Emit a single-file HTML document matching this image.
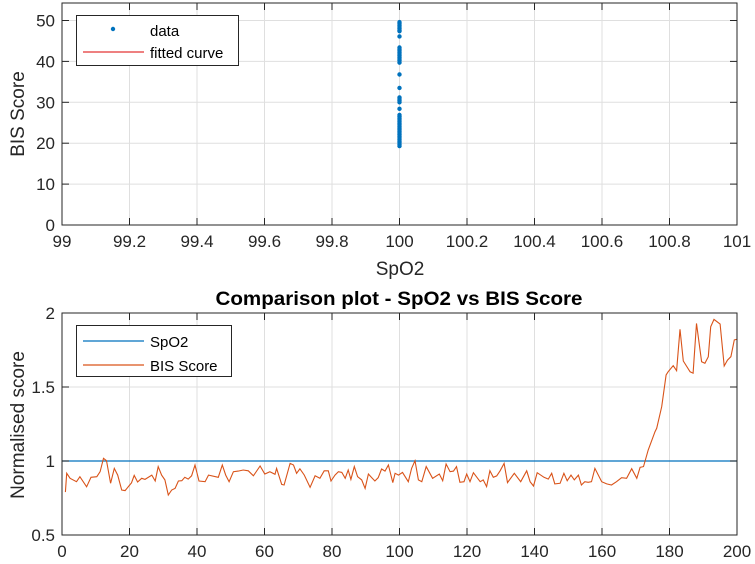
<!DOCTYPE html>
<html><head><meta charset="utf-8"><style>
body{margin:0;background:#fff;}
svg{display:block;font-family:"Liberation Sans",Arial,sans-serif;}
</style></head><body>
<svg id="chart" width="755" height="564" viewBox="0 0 755 564">
<rect width="755" height="564" fill="#fff"/>
<g id="topAxes"></g>
<g id="botAxes"></g>
</svg>
<script>
// Top chart data
const spo2Vals = [100];
const bisScatter = [49.6,49.2,48.8,48.4,48.0,47.6,47.4,46.1,43.4,43.0,42.6,42.2,41.8,41.4,41.0,40.6,40.2,39.7,36.8,33.5,31.2,30.8,30.4,30.0,28.4,26.9,26.5,26.1,25.7,25.3,24.9,24.5,24.1,23.7,23.3,22.9,22.5,22.1,21.7,21.3,20.9,20.5,20.1,19.7,19.3];
const topXTicks = [99,99.2,99.4,99.6,99.8,100,100.2,100.4,100.6,100.8,101];
const topXTickLabels = ["99","99.2","99.4","99.6","99.8","100","100.2","100.4","100.6","100.8","101"];
const topYTicks = [0,10,20,30,40,50];
// Bottom chart data
const sampleIdx = [1,1.4,2.4,4.3,5.3,7.3,8.6,10.3,11.3,12.3,13.2,14.4,15.5,16.5,17.7,18.7,20.6,21.4,22.4,23.6,24.6,26.6,27.6,28.5,29.5,30.5,31.5,32.5,33.5,34.5,35.5,36.4,37.4,38.4,39.4,40.6,42.4,43.4,46.3,47.5,48.5,49.5,50.8,52.2,53.7,55.2,56.7,58.7,60.1,61.6,63.1,63.6,65.1,65.8,67.6,68.6,69.5,70.5,71.8,73.5,75,76.4,77.7,78.9,79.7,80.9,81.9,82.9,83.9,84.8,85.6,86.6,87.6,88.8,89.8,90.8,91.8,92.7,93.7,94.7,95.7,96.7,98,98.7,99.7,100.9,102.6,103.6,104.6,105.6,106.6,107.9,109.8,111.8,112.8,113.8,115,116,116.9,117.9,119.1,119.9,120.9,121.9,123.9,124.8,125.8,126.8,127.8,128.8,129.8,131,132,134,135.9,137.7,138.7,139.7,140.8,142.8,144.1,145.1,146,147.6,148.7,149.7,150.8,151.8,153,153.9,154.9,155.9,156.9,157.9,159.9,161.4,162.8,164.3,165.8,167.3,168.8,170.3,171.3,172.3,173.7,175.7,176.2,177.7,179,179.6,181.1,182.1,183.1,184.1,186.1,187,188,189.5,190.5,191.5,192.2,193.2,195,196.2,197.2,198.2,199.2,200];
const bisNorm = [0.79,0.917,0.883,0.86,0.894,0.826,0.89,0.894,0.928,1.018,1.002,0.849,0.95,0.905,0.804,0.8,0.853,0.903,0.858,0.883,0.876,0.905,0.865,0.962,0.905,0.872,0.77,0.804,0.815,0.865,0.867,0.89,0.878,0.9,0.973,0.865,0.86,0.905,0.89,0.973,0.905,0.86,0.928,0.932,0.939,0.934,0.9,0.966,0.912,0.928,0.91,0.95,0.842,0.838,0.984,0.973,0.917,0.947,0.905,0.822,0.9,0.883,0.934,0.934,0.865,0.905,0.928,0.923,0.883,0.939,0.876,0.962,0.894,0.872,0.815,0.912,0.887,0.865,0.887,0.946,0.932,0.973,0.854,0.917,0.905,0.923,0.86,0.95,1.002,0.872,0.86,0.962,0.883,0.912,0.867,0.98,0.928,0.932,0.962,0.856,0.86,0.912,0.86,0.921,0.86,0.872,0.827,0.934,0.89,0.899,0.934,0.984,0.854,0.917,0.86,0.934,0.86,0.831,0.921,0.89,0.878,0.917,0.845,0.849,0.917,0.867,0.905,0.872,0.905,0.838,0.86,0.856,0.86,0.95,0.86,0.845,0.838,0.86,0.887,0.883,0.948,0.883,0.957,0.962,1.074,1.198,1.221,1.367,1.581,1.603,1.644,1.61,1.89,1.676,1.603,1.593,1.93,1.671,1.66,1.705,1.907,1.957,1.926,1.642,1.682,1.705,1.818,1.822];
const spo2Norm = [1,1];
const botXTicks = [0,20,40,60,80,100,120,140,160,180,200];
const botYTicks = [0.5,1,1.5,2];
const botYTickLabels = ["0.5","1","1.5","2"];

const NS="http://www.w3.org/2000/svg";
function mk(parent,tag,attrs,text){const e=document.createElementNS(NS,tag);for(const k in attrs)e.setAttribute(k,attrs[k]);if(text!==undefined)e.textContent=text;parent.appendChild(e);return e;}
const TC="#262626";

const tx=v=>62+(v-99)/2*675;
const ty=v=>225-v*4.09;
const topG=document.getElementById('topAxes');
for(const t of topXTicks){const l=mk(topG,'line',{x1:tx(t),x2:tx(t),y1:3,y2:225,stroke:'#dfdfdf','stroke-width':1});

}
for(const t of topYTicks){const l=mk(topG,'line',{x1:62,x2:737,y1:ty(t),y2:ty(t),stroke:'#dfdfdf','stroke-width':1});

}
for(const v of bisScatter){const c=mk(topG,'circle',{cx:tx(spo2Vals[0]),cy:ty(v),r:2.2,fill:'#0072bd'});

}
let f=mk(topG,'rect',{x:62,y:3,width:675,height:222,fill:'none',stroke:TC,'stroke-width':1});


topXTicks.forEach((t,i)=>{mk(topG,'line',{x1:tx(t),x2:tx(t),y1:225,y2:218,stroke:TC});mk(topG,'line',{x1:tx(t),x2:tx(t),y1:3,y2:10,stroke:TC});
const e=mk(topG,'text',{x:tx(t),y:247,'text-anchor':'middle','font-size':17,fill:TC},topXTickLabels[i]);

});
for(const t of topYTicks){mk(topG,'line',{x1:62,x2:69,y1:ty(t),y2:ty(t),stroke:TC});mk(topG,'line',{x1:737,x2:730,y1:ty(t),y2:ty(t),stroke:TC});
const e=mk(topG,'text',{x:55,y:ty(t)+6,'text-anchor':'end','font-size':17,fill:TC},String(t));

}
let e=mk(topG,'text',{x:400,y:275,'text-anchor':'middle','font-size':19,fill:TC},'SpO2');


e=mk(topG,'text',{x:0,y:0,'text-anchor':'middle','font-size':19,fill:TC,transform:'translate(24,114) rotate(-90)'},'BIS Score');


const lg=mk(topG,'g',{});


mk(lg,'rect',{x:76.5,y:15.5,width:162,height:50,fill:'#fff',stroke:TC});
mk(lg,'circle',{cx:113,cy:29,r:2.2,fill:'#0072bd'});
mk(lg,'text',{x:150,y:36,'font-size':15,fill:'#000'},'data');
mk(lg,'line',{x1:83,x2:144,y1:52,y2:52,stroke:'#d00','stroke-width':1});
mk(lg,'text',{x:150,y:58,'font-size':15,fill:'#000'},'fitted curve');

const bx=v=>62+v*3.375;
const by=v=>461-(v-1)*148;
const botG=document.getElementById('botAxes');
for(const t of botXTicks){const l=mk(botG,'line',{x1:bx(t),x2:bx(t),y1:313,y2:535,stroke:'#dfdfdf'});

}
for(const t of botYTicks){const l=mk(botG,'line',{x1:62,x2:737,y1:by(t),y2:by(t),stroke:'#dfdfdf'});

}
let p=mk(botG,'line',{x1:bx(0),x2:bx(200),y1:by(spo2Norm[0]),y2:by(spo2Norm[1]),stroke:'#0072bd','stroke-width':1.2});


p=mk(botG,'polyline',{points:sampleIdx.map((x,i)=>bx(x).toFixed(1)+','+by(bisNorm[i]).toFixed(1)).join(' '),fill:'none',stroke:'#d95319','stroke-width':1.1});


f=mk(botG,'rect',{x:62,y:313,width:675,height:222,fill:'none',stroke:TC});


for(const t of botXTicks){mk(botG,'line',{x1:bx(t),x2:bx(t),y1:535,y2:528,stroke:TC});mk(botG,'line',{x1:bx(t),x2:bx(t),y1:313,y2:320,stroke:TC});
const e2=mk(botG,'text',{x:bx(t),y:557,'text-anchor':'middle','font-size':17,fill:TC},String(t));

}
botYTicks.forEach((t,i)=>{mk(botG,'line',{x1:62,x2:69,y1:by(t),y2:by(t),stroke:TC});mk(botG,'line',{x1:737,x2:730,y1:by(t),y2:by(t),stroke:TC});
const e2=mk(botG,'text',{x:55,y:by(t)+6,'text-anchor':'end','font-size':17,fill:TC},botYTickLabels[i]);

});
e=mk(botG,'text',{x:399,y:305,'text-anchor':'middle','font-size':19,'font-weight':'bold',fill:'#000',textLength:367,lengthAdjust:'spacingAndGlyphs'},'Comparison plot - SpO2 vs BIS Score');


e=mk(botG,'text',{x:0,y:0,'text-anchor':'middle','font-size':19,fill:TC,transform:'translate(24,425) rotate(-90)'},'Normalised score');


const lg2=mk(botG,'g',{});


mk(lg2,'rect',{x:76.5,y:325.5,width:155,height:51,fill:'#fff',stroke:TC});
mk(lg2,'line',{x1:83,x2:144,y1:341,y2:341,stroke:'#0072bd','stroke-width':1.2});
mk(lg2,'text',{x:150,y:347,'font-size':15,fill:'#000'},'SpO2');
mk(lg2,'line',{x1:83,x2:144,y1:365,y2:365,stroke:'#d95319','stroke-width':1.2});
mk(lg2,'text',{x:150,y:371,'font-size':15,fill:'#000'},'BIS Score');
</script>
</body></html>
